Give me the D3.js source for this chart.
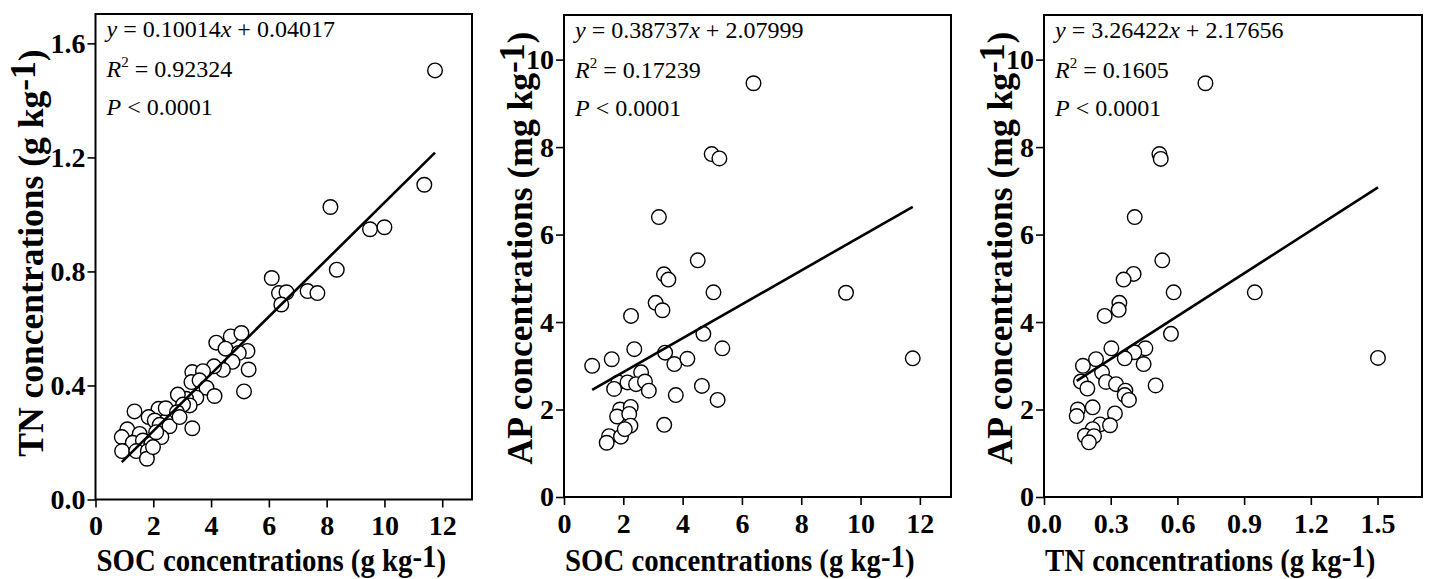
<!DOCTYPE html>
<html><head><meta charset="utf-8">
<script src="https://cdn.jsdelivr.net/npm/d3@7/dist/d3.min.js"></script>
<style>
body{margin:0;background:#fff;}
text{font-family:"Liberation Serif","Times New Roman",serif;}
</style></head>
<body><svg id="c" width="1450" height="579"></svg>
<script>
// ---- data ----
// Panel A: SOC (x) vs TN (y)
const socA = [11.75,11.38,8.13,9.50,10.0,8.35,6.10,6.35,6.61,7.34,7.68,6.43,4.18,4.68,5.05,4.50,5.26,4.96,4.74,4.41,4.10,5.30,5.14,3.35,3.72,3.32,3.60,3.84,4.12,3.49,3.14,2.85,3.26,3.03,2.18,2.43,2.82,1.35,1.84,2.05,2.22,2.56,2.91,3.35,1.10,1.53,0.91,1.29,1.64,1.93,2.28,2.10,0.92,1.41,1.81,1.78,1.99];
const tnA  = [1.505,1.104,1.026,0.948,0.955,0.806,0.777,0.724,0.727,0.731,0.724,0.684,0.550,0.572,0.584,0.529,0.521,0.514,0.483,0.455,0.467,0.456,0.379,0.447,0.450,0.412,0.418,0.392,0.363,0.357,0.353,0.368,0.330,0.333,0.318,0.320,0.306,0.309,0.289,0.277,0.262,0.257,0.289,0.250,0.246,0.230,0.219,0.199,0.207,0.195,0.219,0.236,0.170,0.170,0.170,0.143,0.184];
// Panel B: SOC (x) vs AP (y)
const socB = [6.39,4.98,5.24,3.20,4.51,3.37,3.52,5.04,9.51,3.09,3.32,2.26,4.70,2.37,5.34,11.76,1.61,0.95,3.41,3.72,4.16,2.60,1.83,2.14,2.43,2.73,1.69,2.86,4.65,3.77,5.18,1.89,2.25,1.79,2.20,2.24,3.38,1.52,1.92,1.44,2.05];
const apB  = [9.46,7.84,7.74,6.40,5.41,5.09,4.97,4.68,4.67,4.44,4.27,4.14,3.73,3.38,3.40,3.17,3.15,3.00,3.30,3.04,3.16,2.85,2.62,2.62,2.58,2.64,2.47,2.43,2.54,2.33,2.22,2.00,2.06,1.84,1.90,1.63,1.65,1.39,1.38,1.24,1.55];
// Panel C: TN (x) vs AP (y)
const tnC  = [0.726,0.519,0.525,0.408,0.532,0.403,0.358,0.583,0.948,0.339,0.336,0.273,0.571,0.303,0.456,0.406,0.363,1.502,0.234,0.175,0.448,0.261,0.166,0.279,0.324,0.195,0.366,0.502,0.363,0.382,0.152,0.219,0.147,0.319,0.252,0.297,0.219,0.184,0.225,0.202];
const apC  = [9.46,7.84,7.73,6.40,5.41,5.10,4.97,4.68,4.68,4.44,4.28,4.14,3.73,3.40,3.40,3.31,3.17,3.18,3.15,3.00,3.04,2.85,2.64,2.63,2.58,2.48,2.43,2.55,2.33,2.22,2.00,2.05,1.85,1.91,1.66,1.64,1.55,1.40,1.39,1.25];
// regression coefficients [slope, intercept]
const fitA = [0.10014, 0.04017];
const fitB = [0.38737, 2.07999];
const fitC = [3.26422, 2.17656];
// ticks
const xTicksA = [0,2,4,6,8,10,12];
const yTicksA = [0.0,0.4,0.8,1.2,1.6];
const xTicksB = [0,2,4,6,8,10,12];
const yTicksB = [0,2,4,6,8,10];
const xTicksC = [0.0,0.3,0.6,0.9,1.2,1.5];
const yTicksC = [0,2,4,6,8,10];
// statistics text
const statsA = ["0.10014","0.04017","0.92324","0.0001"];
const statsB = ["0.38737","2.07999","0.17239","0.0001"];
const statsC = ["3.26422","2.17656","0.1605","0.0001"];

const svg = d3.select("#c");

function panel(cfg){
  const g = svg.append("g");
  const x = d3.scaleLinear().domain(cfg.xd).range([cfg.left, cfg.right]);
  const y = d3.scaleLinear().domain(cfg.yd).range([cfg.bottom, cfg.top]);
  // axes
  const ax = g.append("g").attr("transform",`translate(0,${cfg.bottom})`)
    .call(d3.axisBottom(x).tickValues(cfg.xt).tickFormat(cfg.xf).tickSize(8).tickSizeOuter(0).tickPadding(8));
  const ay = g.append("g").attr("transform",`translate(${cfg.left},0)`)
    .call(d3.axisLeft(y).tickValues(cfg.yt).tickFormat(cfg.yf).tickSize(8).tickSizeOuter(0).tickPadding(2));
  [ax,ay].forEach(a=>{
    a.select(".domain").remove();
    a.selectAll(".tick line").attr("stroke","#000").attr("stroke-width",1.6);
    a.selectAll(".tick text").attr("fill","#000").style("font-family",'"Liberation Serif",serif')
      .style("font-weight","bold").style("font-size","28px");
  });
  // frame
  g.append("rect").attr("x",cfg.left).attr("y",cfg.top)
    .attr("width",cfg.right-cfg.left).attr("height",cfg.bottom-cfg.top)
    .attr("fill","none").attr("stroke","#000").attr("stroke-width",2);
  // points
  const pts = cfg.xs.map((v,i)=>[v,cfg.ys[i]]);
  g.append("g").selectAll("circle").data(pts).join("circle")
    .attr("cx",d=>x(d[0])).attr("cy",d=>y(d[1])).attr("r",7.3)
    .attr("fill","#fff").attr("stroke","#000").attr("stroke-width",1.4);
  // fit line
  const x0 = d3.min(cfg.xs), x1 = d3.max(cfg.xs);
  g.append("line").attr("x1",x(x0)).attr("y1",y(cfg.fit[0]*x0+cfg.fit[1]))
    .attr("x2",x(x1)).attr("y2",y(cfg.fit[0]*x1+cfg.fit[1]))
    .attr("stroke","#000").attr("stroke-width",2.6);
  // stats text
  const st = g.append("g").style("font-size","24px").style("white-space","pre");
  const sp = cfg.wide ? "  " : " ";
  const t1 = st.append("text").attr("x",cfg.left+11).attr("y",cfg.top+23);
  t1.append("tspan").style("font-style","italic").text("y");
  t1.append("tspan").text(sp+"="+sp+cfg.stats[0]);
  t1.append("tspan").style("font-style","italic").text("x");
  t1.append("tspan").text(" + "+cfg.stats[1]);
  const t2 = st.append("text").attr("x",cfg.left+11).attr("y",cfg.top+63);
  t2.append("tspan").style("font-style","italic").text("R");
  t2.append("tspan").attr("dy",-10).style("font-size","15px").text("2");
  t2.append("tspan").attr("dy",10).text((cfg.wide?"  ":" ")+"= "+cfg.stats[2]);
  const t3 = st.append("text").attr("x",cfg.left+11).attr("y",cfg.top+101);
  t3.append("tspan").style("font-style","italic").text("P");
  t3.append("tspan").text(sp+"< "+cfg.stats[3]);
  // x-axis title (narrowed as in the reference)
  const xt = g.append("text").attr("transform",`translate(${cfg.left+1},571) scale(0.9,1)`)
    .attr("text-anchor","start").style("font-weight","bold").style("font-size","32px");
  xt.append("tspan").text(cfg.xlab);
  xt.append("tspan").attr("dy",-4).text("-1");
  xt.append("tspan").attr("dy",4).text(")");
  // y-axis title
  const yt = g.append("text").attr("transform",`translate(${cfg.ytx},${cfg.ytc}) rotate(-90)`)
    .attr("text-anchor","middle").style("font-weight","bold").style("font-size","35.5px");
  yt.append("tspan").text(cfg.ylab);
  yt.append("tspan").attr("dy",-8).text("-1");
  yt.append("tspan").attr("dy",8).text(")");
}

panel({left:95.5,right:472,top:14,bottom:499.5,xd:[0,13.03],yd:[0,1.703],
  xt:xTicksA,yt:yTicksA,xf:d3.format("d"),yf:d3.format(".1f"),
  xs:socA,ys:tnA,fit:fitA,stats:statsA,wide:false,
  xlab:"SOC concentrations (g kg",ylab:"TN concentrations (g kg",ytx:43,ytc:253});
panel({left:564,right:951,top:15,bottom:497,xd:[0,13.05],yd:[0,11.02],
  xt:xTicksB,yt:yTicksB,xf:d3.format("d"),yf:d3.format("d"),
  xs:socB,ys:apB,fit:fitB,stats:statsB,wide:false,
  xlab:"SOC concentrations (g kg",ylab:"AP concentrations (mg kg",ytx:532,ytc:248});
panel({left:1044,right:1422,top:15,bottom:497,xd:[0,1.70],yd:[0,11.02],
  xt:xTicksC,yt:yTicksC,xf:d3.format(".1f"),yf:d3.format("d"),
  xs:tnC,ys:apC,fit:fitC,stats:statsC,wide:true,
  xlab:"TN concentrations (g kg",ylab:"AP concentrations (mg kg",ytx:1012,ytc:248});
</script></body></html>
